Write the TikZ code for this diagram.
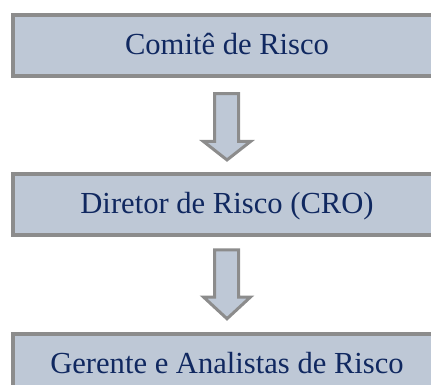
\documentclass[tikz,border=0pt]{standalone}
\usepackage{fontspec}
\setmainfont{Liberation Serif}
\usetikzlibrary{calc}
\definecolor{boxfill}{RGB}{190,200,214}
\definecolor{boxline}{RGB}{140,140,140}
\definecolor{navy}{RGB}{16,40,96}
\tikzset{
  levelbox/.style={draw=boxline, fill=boxfill, line width=4pt, rectangle,
    minimum width=428pt, minimum height=61.5pt, inner sep=0pt,
    text=navy, font=\fontsize{30.6}{36}\selectfont, text height=20pt, text depth=2pt},
  downarrow/.style={draw=boxline, fill=boxfill, line width=3pt, line join=miter}
}
\begin{document}
\begin{tikzpicture}[x=1pt,y=-1pt]
\useasboundingbox (0,0) rectangle (431,385);
\clip (0,0) rectangle (431,385);
\node[levelbox] (b1) at (227,45.5) {Comitê de Risco};
\node[levelbox] (b2) at (227,204.7) {Diretor de Risco (CRO)};
\node[levelbox] (b3) at (227,364.5) {Gerente e Analistas de Risco};
% arrow 1
\coordinate (a1top) at ($(b1.south)+(0,15.5)$);
\coordinate (a1tip) at ($(b2.north)+(0,-12)$);
\draw[downarrow] (a1top -| 214.5,0) -- (a1top -| 238.5,0) -- (238.5,141.5) -- (250.5,141.5)
  -- (a1tip) -- (203.5,141.5) -- (214.5,141.5) -- cycle;
% arrow 2
\coordinate (a2top) at ($(b2.south)+(0,12.5)$);
\coordinate (a2tip) at ($(b3.north)+(0,-13)$);
\draw[downarrow] (a2top -| 214.5,0) -- (a2top -| 238.5,0) -- (238.5,297) -- (250.5,297)
  -- (a2tip) -- (203.5,297) -- (214.5,297) -- cycle;
\end{tikzpicture}
\end{document}
